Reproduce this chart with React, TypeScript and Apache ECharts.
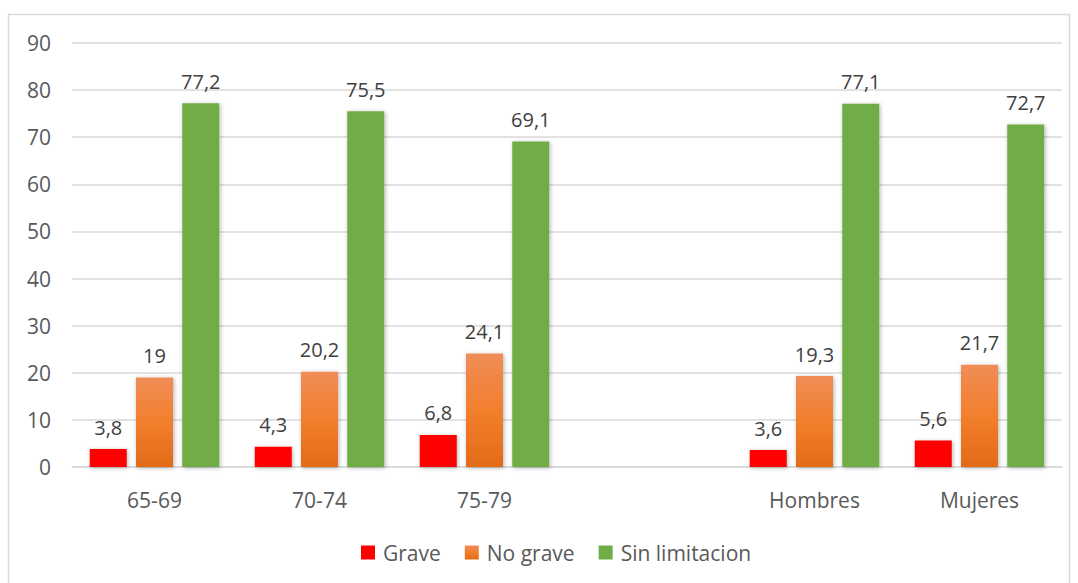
import React, { useEffect, useRef } from "react";
import * as echarts from "echarts";

const categories = ["65-69", "70-74", "75-79", "", "Hombres", "Mujeres"];
const grave = [3.8, 4.3, 6.8, null, 3.6, 5.6];
const noGrave = [19, 20.2, 24.1, null, 19.3, 21.7];
const sinLimitacion = [77.2, 75.5, 69.1, null, 77.1, 72.7];
const seriesNames = ["Grave", "No grave", "Sin limitacion"];

const FONT = "'Open Sans', 'Noto Sans', sans-serif";

export default function App() {
  const ref = useRef<HTMLDivElement>(null);
  useEffect(() => {
    const chart = echarts.init(ref.current!, null, { renderer: "svg" });
    const shadow = {
      shadowBlur: 4,
      shadowColor: "rgba(0,0,0,0.3)",
      shadowOffsetX: 1,
      shadowOffsetY: 1,
    };
    const label = {
      show: true,
      position: "top",
      distance: 12,
      color: "#404040",
      fontSize: 20,
      fontFamily: FONT,
      formatter: (p: any) => String(p.value).replace(".", ","),
    };
    chart.setOption({
      animation: false,
      backgroundColor: "#fff",
      graphic: [
        {
          type: "rect",
          silent: true,
          z: -10,
          shape: { x: 8.5, y: 14.5, width: 1061, height: 600 },
          style: { fill: "none", stroke: "#d9d9d9", lineWidth: 1.5 },
        },
      ],
      grid: { left: 72, right: 16, top: 43, bottom: 116 },
      legend: {
        bottom: 15,
        left: 356,
        itemWidth: 14,
        itemHeight: 14,
        itemGap: 24,
        icon: "rect",
        textStyle: { color: "#595959", fontSize: 21, fontFamily: FONT, padding: [0, 0, 0, 3] },
        data: seriesNames,
      },
      xAxis: {
        type: "category",
        data: categories,
        axisTick: { show: false },
        axisLine: { lineStyle: { color: "#d9d9d9", width: 1.5 } },
        axisLabel: { color: "#595959", fontSize: 21, fontFamily: FONT, margin: 22 },
      },
      yAxis: {
        type: "value",
        min: 0,
        max: 90,
        interval: 10,
        axisLine: { show: false },
        axisTick: { show: false },
        splitLine: { lineStyle: { color: "#d9d9d9", width: 1.5 } },
        axisLabel: { color: "#595959", fontSize: 21, fontFamily: FONT, margin: 21 },
      },
      series: [
        {
          name: seriesNames[0],
          type: "bar",
          data: grave,
          barWidth: 37,
          barGap: "25%",
          itemStyle: { color: "#ff0000", ...shadow },
          label,
        },
        {
          name: seriesNames[1],
          type: "bar",
          data: noGrave,
          barWidth: 37,
          barGap: "25%",
          itemStyle: {
            color: new echarts.graphic.LinearGradient(0, 0, 0, 1, [
              { offset: 0, color: "#f08d57" },
              { offset: 0.5, color: "#f27f2d" },
              { offset: 1, color: "#e26b18" },
            ]),
            ...shadow,
          },
          label,
        },
        {
          name: seriesNames[2],
          type: "bar",
          data: sinLimitacion,
          barWidth: 37,
          barGap: "25%",
          itemStyle: { color: "#70ad47", ...shadow },
          label,
        },
      ],
    });
    return () => chart.dispose();
  }, []);
  return (
    <div ref={ref} style={{ position: "absolute", left: 0, top: 0, width: 1078, height: 583 }} />
  );
}
